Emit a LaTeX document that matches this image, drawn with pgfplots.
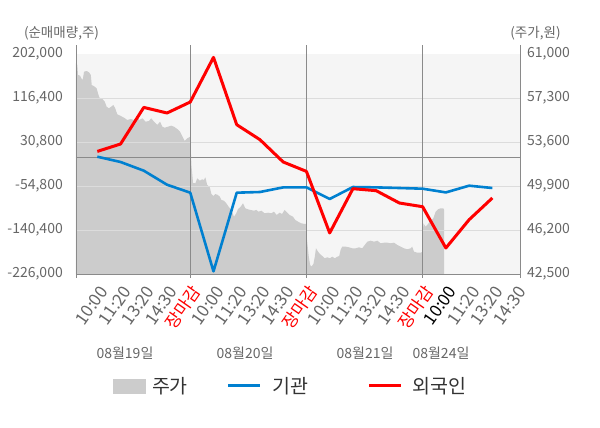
\documentclass[border=0pt]{standalone}
\usepackage{pgfplots}
\pgfplotsset{compat=1.18}
\usepackage{fontspec}
\setmainfont{Noto Sans CJK KR}
\definecolor{bggray}{HTML}{F5F5F5}
\definecolor{areagray}{HTML}{CCCCCC}
\definecolor{gridgray}{HTML}{DCDCDC}
\definecolor{sepgray}{HTML}{8A8A8A}
\definecolor{labgray}{HTML}{666666}
\definecolor{blueline}{RGB}{0,128,208}
\definecolor{redline}{RGB}{255,0,0}
\definecolor{legtext}{HTML}{333333}
\begin{document}
\begin{tikzpicture}
\path[use as bounding box] (-76pt,-154pt) rectangle (524pt,274pt);
% price axis (right)
\begin{axis}[
  at={(0,0)}, anchor=south west, scale only axis,
  width=444pt, height=220pt,
  xmin=-0.917, xmax=18.19, ymin=42500, ymax=61000,
  scaled y ticks=false,
  axis line style={draw=none}, major tick length=0pt,
  xtick=\empty,
  ytick={42500,46200,49900,53600,57300,61000},
  yticklabels={{42,500},{46,200},{49,900},{53,600},{57,300},{61,000}},
  yticklabel pos=right,
  yticklabel style={font=\fontsize{14pt}{16pt}\selectfont, text=labgray, inner sep=0pt, anchor=west, xshift=7pt},
  axis background/.style={fill=bggray},
]
\addplot[fill=areagray, draw=none] coordinates {
(-0.917,42500) (-0.917,60218) (-0.86,60075) (-0.83,59234) (-0.74,59175) (-0.69,58956) (-0.63,58813)
(-0.57,59512) (-0.46,59570) (-0.36,59461) (-0.28,59234) (-0.24,58393) (-0.11,58250) (-0.03,58115)
(0.03,57695) (0.09,57325) (0.22,57216) (0.32,56989) (0.40,56568) (0.50,56434) (0.60,56568)
(0.69,56711) (0.77,56434) (0.86,55929) (1.01,55786) (1.15,55643) (1.29,55450) (1.44,55534)
(1.58,55450) (1.70,55727) (1.81,55450) (1.94,55593) (2.08,55307) (2.22,55366) (2.32,55593)
(2.44,55307) (2.58,55029) (2.70,55307) (2.80,54886) (2.90,54802) (3.04,54886) (3.18,54970)
(3.30,54886) (3.44,54693) (3.56,54466) (3.67,54045) (3.76,53684) (3.87,53911) (4.00,54045)
(4.05,51666) (4.12,50152) (4.22,50126) (4.30,50547) (4.41,50346) (4.51,50463) (4.59,50404)
(4.65,50632) (4.73,49984) (4.84,49791) (4.91,49227) (4.99,49059) (5.08,49227) (5.19,49143)
(5.27,49000) (5.34,48723) (5.45,48664) (5.55,48445) (5.65,48159) (5.77,47882) (5.88,47318)
(5.98,47604) (6.05,47941) (6.17,48159) (6.27,48445) (6.37,48025) (6.48,47941) (6.60,47882)
(6.74,47823) (6.84,47882) (6.94,47739) (7.06,47823) (7.20,47604) (7.35,47655) (7.49,47604)
(7.60,47739) (7.72,47461) (7.85,47655) (7.95,47545) (8.06,47882) (8.18,47655) (8.28,47461)
(8.42,47318) (8.52,47041) (8.64,46898) (8.78,46763) (8.92,46705) (9.00,46705)
(9.02,45443) (9.10,43955) (9.16,43257) (9.21,43114) (9.30,43341) (9.36,43955) (9.41,44661)
(9.50,44375) (9.58,44182) (9.68,44014) (9.78,43820) (9.90,43904) (10.01,43820) (10.11,43955)
(10.22,43820) (10.33,43955) (10.41,44014) (10.47,44518) (10.54,44796) (10.69,44796) (10.83,44745)
(10.97,44661) (11.12,44661) (11.26,44745) (11.40,44661) (11.51,44939) (11.62,45216) (11.76,45300)
(11.91,45216) (12.05,45300) (12.19,45082) (12.34,45132) (12.48,45132) (12.62,45082) (12.77,45132)
(12.91,44939) (13.06,44796) (13.20,44661) (13.34,44577) (13.49,44661) (13.55,44796) (13.63,44375)
(13.77,44291) (13.92,44291) (14.00,44375)
(14.03,46763) (14.13,46477) (14.23,46705) (14.35,46982) (14.46,47184) (14.56,47739) (14.66,47941)
(14.78,48025) (14.89,48025) (14.93,47882) (14.93,42500)
} -- cycle;
\end{axis}
% volume axis (left)
\begin{axis}[
  at={(0,0)}, anchor=south west, scale only axis,
  width=444pt, height=220pt,
  xmin=-0.917, xmax=18.19, ymin=-226000, ymax=202000,
  scaled y ticks=false,
  clip=false,
  axis line style={draw=none}, major tick length=0pt,
  ytick={-226000,-140400,-54800,30800,116400,202000},
  yticklabels={{-226,000},{-140,400},{-54,800},{30,800},{116,400},{202,000}},
  yticklabel style={font=\fontsize{14pt}{16pt}\selectfont, text=labgray, inner sep=0pt, anchor=east, xshift=-13pt},
  extra y ticks={-140400,-54800,30800,116400},
  extra y tick labels={},
  extra y tick style={grid=major, major grid style={gridgray, line width=0.8pt}},
  xtick={0,...,18},
  xticklabels={{10:00},{11:20},{13:20},{14:30},{\textcolor{redline}{장마감}},{10:00},{11:20},{13:20},{14:30},{\textcolor{redline}{장마감}},{10:00},{11:20},{13:20},{14:30},{\textcolor{redline}{장마감}},{\textcolor{black}{10:00}},{11:20},{13:20},{14:30}},
  xticklabel style={font=\fontsize{17pt}{19pt}\selectfont, text=labgray, xshift=6.5pt, yshift=-14pt, rotate=55, anchor=east, inner sep=0pt},
  legend columns=3,
  legend style={draw=none, fill=none, at={(0.4834,-0.509)}, anchor=center,
    font=\fontsize{19.5pt}{22pt}\selectfont, text=legtext,
    /tikz/every even column/.append style={column sep=0pt}},
]
% zero line, axis lines, separators
\draw[sepgray, line width=0.9pt] (axis cs:-0.917,0) -- (axis cs:18.19,0);
\draw[sepgray, line width=0.9pt] (axis cs:-0.917,-226000) -- (axis cs:18.19,-226000);
\draw[sepgray, line width=0.9pt] ([yshift=-4pt]axis cs:-0.917,-226000) -- ([yshift=9pt]axis cs:-0.917,202000);
\draw[sepgray, line width=0.9pt] ([yshift=-4pt]axis cs:4,-226000) -- ([yshift=9pt]axis cs:4,202000);
\draw[sepgray, line width=0.9pt] ([yshift=-4pt]axis cs:9,-226000) -- ([yshift=9pt]axis cs:9,202000);
\draw[sepgray, line width=0.9pt] ([yshift=-4pt]axis cs:14,-226000) -- ([yshift=9pt]axis cs:14,202000);
\draw[sepgray, line width=0.9pt] ([yshift=-4pt]axis cs:18.19,-226000) -- ([yshift=9pt]axis cs:18.19,202000);
\addlegendimage{legend image code/.code={\fill[areagray] (0pt,-7pt) rectangle (32pt,7pt);}}
\addlegendentry{\hspace*{5pt}주가\hspace*{37pt}}
\addplot[blueline, line width=2.6pt, line join=round,
  legend image code/.code={\draw[blueline, line width=3pt] (0pt,0pt) -- (32pt,0pt);}] coordinates {
(0,2200) (1,-8100) (2,-25000) (3,-52300) (4,-67800) (5,-220900) (6,-67800) (7,-66500) (8,-57500)
(9,-57500) (10,-80100) (11,-56800) (12,-57500) (13,-58700) (14,-60050) (15,-67300) (16,-54200) (17,-58700)
};
\addlegendentry{\hspace*{9pt}기관\hspace*{57pt}}
\addplot[redline, line width=3pt, line join=round,
  legend image code/.code={\draw[redline, line width=3pt] (0pt,0pt) -- (32pt,0pt);}] coordinates {
(0,12500) (1,26900) (2,98100) (3,87200) (4,108600) (5,195400) (6,64450) (7,35300) (8,-8100)
(9,-26400) (10,-146200) (11,-60050) (12,-63900) (13,-87900) (14,-95100) (15,-175400) (16,-120400) (17,-78150)
};
\addlegendentry{\hspace*{8pt}외국인}
% date labels
\node[font=\fontsize{14pt}{16pt}\selectfont, text=labgray] at ([yshift=-79pt]axis cs:1.19,-226000) {08월19일};
\node[font=\fontsize{14pt}{16pt}\selectfont, text=labgray] at ([yshift=-79pt]axis cs:6.36,-226000) {08월20일};
\node[font=\fontsize{14pt}{16pt}\selectfont, text=labgray] at ([yshift=-79pt]axis cs:11.52,-226000) {08월21일};
\node[font=\fontsize{14pt}{16pt}\selectfont, text=labgray] at ([yshift=-79pt]axis cs:14.79,-226000) {08월24일};
% axis titles
\node[font=\fontsize{13.5pt}{16pt}\selectfont, text=labgray] at ([xshift=-14.5pt,yshift=21pt]rel axis cs:0,1) {(순매매량,주)};
\node[font=\fontsize{13.5pt}{16pt}\selectfont, text=labgray] at ([xshift=15.5pt,yshift=21pt]rel axis cs:1,1) {(주가,원)};
\end{axis}
\end{tikzpicture}
\end{document}
